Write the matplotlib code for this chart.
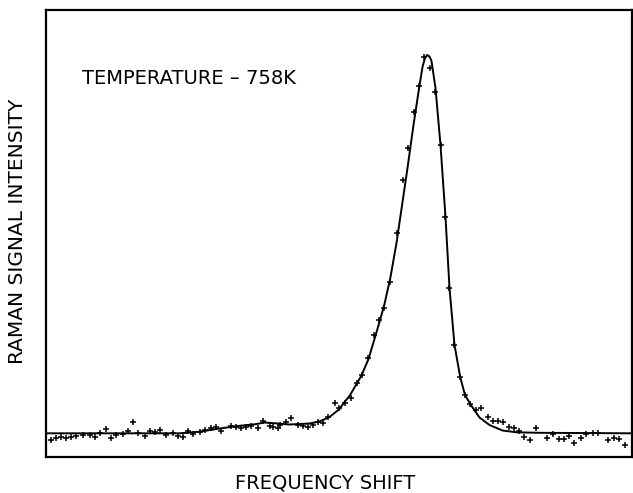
import numpy as np
import matplotlib
matplotlib.use("Agg")
import matplotlib.pyplot as plt

shift_meas = [5.7, 10.7, 15.7, 20.7, 25.7, 30.7, 37.3, 44, 49, 54, 60.7, 65.7, 70.7, 77.3,
              82.3, 87.3, 92.3, 99, 104, 109, 114, 120.7, 127.3, 132.3, 137.3, 142.3,
              147.3, 154, 159, 165.7, 170, 175.7, 185.7, 190.7, 195.7, 200.7, 205.7, 212.3,
              217.3, 224, 227.3, 232.3, 234, 240.7, 245.7, 252.3, 257.3, 262.3, 267.3, 272.3,
              277.3, 282.3, 289, 294, 300, 305.7, 311.3, 316.3, 323, 329, 334, 339, 345,
              351.7, 357.3, 363, 368.3, 373.3, 379, 384.7, 390, 395.3, 400, 404, 409, 414.7,
              419.7, 425, 430.7, 435.7, 442.3, 447.3, 452.3, 457.3, 464, 469, 474, 479,
              484.7, 490.7, 501.3, 507.3, 514, 519, 524, 529, 535.7, 540.7, 547.3, 552.3,
              562.3, 569, 574, 580]
int_meas = [17, 19.3, 20.3, 18.7, 19.7, 21, 22, 22, 20.3, 23.7, 28, 19.3, 22, 22.7,
            26, 35.3, 24.3, 21, 26.3, 25.3, 27, 22, 23.7, 21.3, 20.3, 26,
            23, 24.7, 27, 29.3, 30.3, 26.3, 31.3, 29.7, 28.7, 29.7, 31, 28.7,
            36, 31.3, 29.7, 28.7, 32, 34.7, 38.7, 32, 31.3, 30.3, 32, 34.7,
            33.7, 40.3, 54.3, 48.7, 54.3, 59.3, 73.7, 82, 98.7, 122, 137, 148.7, 175.3,
            223.7, 277, 308.7, 345.3, 371, 400, 389.3, 364.7, 312, 240.3, 168.7, 112, 80.3,
            62, 53, 47, 48.7, 40.3, 36.3, 36.3, 35.3, 30.3, 29.3, 26.3, 20.3,
            17, 29.3, 19.3, 22.7, 18, 18, 21, 14.3, 18.7, 22.7, 23.7, 23.7,
            17, 19.3, 18, 12]

# fitted line shape
shift_fit = [0, 134, 154, 174, 194, 210, 219, 230, 244, 254, 264, 274, 284, 294, 299,
             304, 311, 316, 323, 329, 334, 339, 345, 351, 356, 362, 368, 373, 377,
             379.5, 381.7, 384, 386, 390, 395, 400, 404, 409, 414.7, 419.5, 425.7,
             434, 444, 457, 471, 494, 586.5]
int_fit = [23.7, 23.7, 25.3, 28.5, 31.2, 32.8, 34.5, 33.7, 32.5, 33, 33.5, 35.5, 40,
           48, 55, 61, 73, 81.5, 98, 118, 135, 153, 180, 214, 248, 289, 332, 365, 390,
           399, 402, 400.5, 396, 369, 312, 240, 169, 112, 80, 62, 51.5,
           39.5, 32, 26.5, 24.7, 24.2, 23.7]

fig = plt.figure(figsize=(6.33, 4.93), dpi=100)
ax = fig.add_axes([0.0719, 0.073, 0.9265, 0.9067])

ax.plot(shift_fit, int_fit, color="black", lw=1.4, zorder=2)
ax.plot(shift_meas, int_meas, ls="none", marker="+", ms=4.5, mew=1.1,
        color="black", zorder=3)

ax.set_xlim(0, 586.5)
ax.set_ylim(0, 447)
ax.set_xticks([])
ax.set_yticks([])
for s in ax.spines.values():
    s.set_linewidth(1.6)

ax.text(36, 379, "TEMPERATURE \u2013 758K", fontsize=14, ha="left", va="center")
fig.text(0.513, 0.0193, "FREQUENCY SHIFT", fontsize=14, ha="center", va="center")
fig.text(0.0276, 0.5304, "RAMAN SIGNAL INTENSITY", fontsize=14.5, rotation=90,
         ha="center", va="center")

fig.savefig("out.png", dpi=100)
